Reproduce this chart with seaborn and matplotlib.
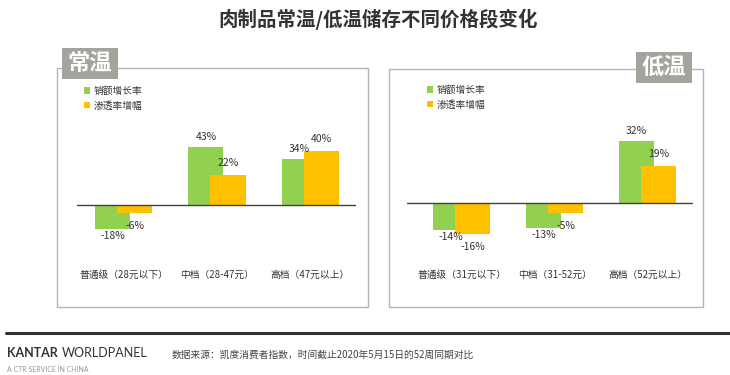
import numpy as np
import pandas as pd
import matplotlib
matplotlib.use('Agg')
import matplotlib.pyplot as plt
from matplotlib.patches import Rectangle
from matplotlib.lines import Line2D
import seaborn as sns

# data (percent)
series_names = ['销额增长率', '渗透率增幅']
ambient_cats = ['普通级（28元以下）', '中档（28-47元）', '高档（47元以上）']
ambient_sales = [-18, 43, 34]
ambient_pen = [-6, 22, 40]
chilled_cats = ['普通级（31元以下）', '中档（31-52元）', '高档（52元以上）']
chilled_sales = [-14, -13, 32]
chilled_pen = [-16, -5, 19]

GREEN = '#92d050'
GOLD = '#ffc000'
W, H = 730, 375

sns.set_style('white')
plt.rcParams['font.family'] = ['Noto Sans CJK SC', 'DejaVu Sans']

fig = plt.figure(figsize=(7.3, 3.75), dpi=100)


def fx(x):
    return x / W


def fy(y):
    return 1 - y / H


def draw_panel(box, tag_box, tag, ax_px, xlim, ylim, cats, sales, pen, legend_xy):
    # panel frame
    x0, y0, x1, y1 = box
    fig.patches.append(Rectangle((fx(x0), fy(y1)), fx(x1 - x0), (y1 - y0) / H,
                                 transform=fig.transFigure, fill=False,
                                 edgecolor='#b4b4b4', lw=1, zorder=1))
    # grey tag
    tx0, ty0, tx1, ty1 = tag_box
    fig.patches.append(Rectangle((fx(tx0), fy(ty1)), fx(tx1 - tx0), (ty1 - ty0) / H,
                                 transform=fig.transFigure, facecolor='#a4a49c',
                                 edgecolor='none', zorder=3))
    fig.text(fx((tx0 + tx1) / 2), fy((ty0 + ty1) / 2), tag, color='white',
             fontsize=16, fontweight='bold', ha='center', va='center', zorder=4)

    ax0, ay0, ax1, ay1 = ax_px
    ax = fig.add_axes([fx(ax0), fy(ay1), fx(ax1 - ax0), (ay1 - ay0) / H])
    ax.patch.set_alpha(0)

    idx = np.arange(len(cats))
    off = 0.118
    df_g = pd.DataFrame({'x': idx - off, 'v': sales})
    df_o = pd.DataFrame({'x': idx + off, 'v': pen})
    sns.barplot(data=df_g, x='x', y='v', native_scale=True, width=0.376,
                color=GREEN, saturation=1, linewidth=0, ax=ax, label=series_names[0])
    sns.barplot(data=df_o, x='x', y='v', native_scale=True, width=0.376,
                color=GOLD, saturation=1, linewidth=0, ax=ax, label=series_names[1])

    # value labels: gold labels sit a little further from the bar end
    for xs, vals, up, down in ((idx - off, sales, 10, 7), (idx + off, pen, 12, 13)):
        for x, v in zip(xs, vals):
            dy = up if v > 0 else -down
            ax.annotate(f'{v}%', (x, v), xytext=(0, dy * 0.72),
                        textcoords='offset points', ha='center', va='center',
                        fontsize=7.5, color='#333333')

    ax.axhline(0, color='#404040', lw=1)
    ax.set_xlim(*xlim)
    ax.set_ylim(*ylim)
    ax.set_xticks(idx)
    ax.set_xticklabels(cats, fontsize=7, color='#333333')
    ax.tick_params(axis='x', length=0, pad=7)
    ax.set_yticks([])
    ax.set_xlabel('')
    ax.set_ylabel('')
    for s in ax.spines.values():
        s.set_visible(False)

    ax.legend(loc='upper left', bbox_to_anchor=(fx(legend_xy[0]), fy(legend_xy[1])),
              bbox_transform=fig.transFigure, frameon=False, fontsize=7,
              handlelength=0.6, handleheight=0.6, handletextpad=0.4,
              labelspacing=0.45, borderpad=0, borderaxespad=0,
              labelcolor='#333333')
    return ax


draw_panel((57, 68, 368, 307), (62, 48, 118, 79), '常温', (77, 120, 356, 260),
           (-0.5, 2.49), (-41, 63), ambient_cats, ambient_sales, ambient_pen, (84, 86))
draw_panel((389, 69, 703, 307), (636, 52, 692, 83), '低温', (407, 120, 693, 260),
           (-0.59, 2.49), (-29.2, 42.6), chilled_cats, chilled_sales, chilled_pen, (427, 85))

# title
fig.text(fx(378), fy(19), '肉制品常温/低温储存不同价格段变化', ha='center', va='center',
         fontsize=14, fontweight='bold', color='#333333')

# footer
fig.lines.append(Line2D([fx(6), fx(730)], [fy(333), fy(333)], transform=fig.transFigure,
                        color='#333333', lw=2.2))
fig.text(fx(7), fy(353), 'KANTAR', family='Lato', fontweight='bold', fontsize=9,
         color='#333333', ha='left', va='center')
fig.text(fx(62), fy(353), 'WORLDPANEL', family='Lato', fontsize=9,
         color='#333333', ha='left', va='center')
fig.text(fx(7), fy(369), 'A CTR SERVICE IN CHINA', family='Lato', fontsize=5,
         color='#999999', ha='left', va='center')
fig.text(fx(172), fy(355), '数据来源：凯度消费者指数，时间截止2020年5月15日的52周同期对比',
         fontsize=7, color='#444444', ha='left', va='center')

fig.savefig('out.png', dpi=100)
